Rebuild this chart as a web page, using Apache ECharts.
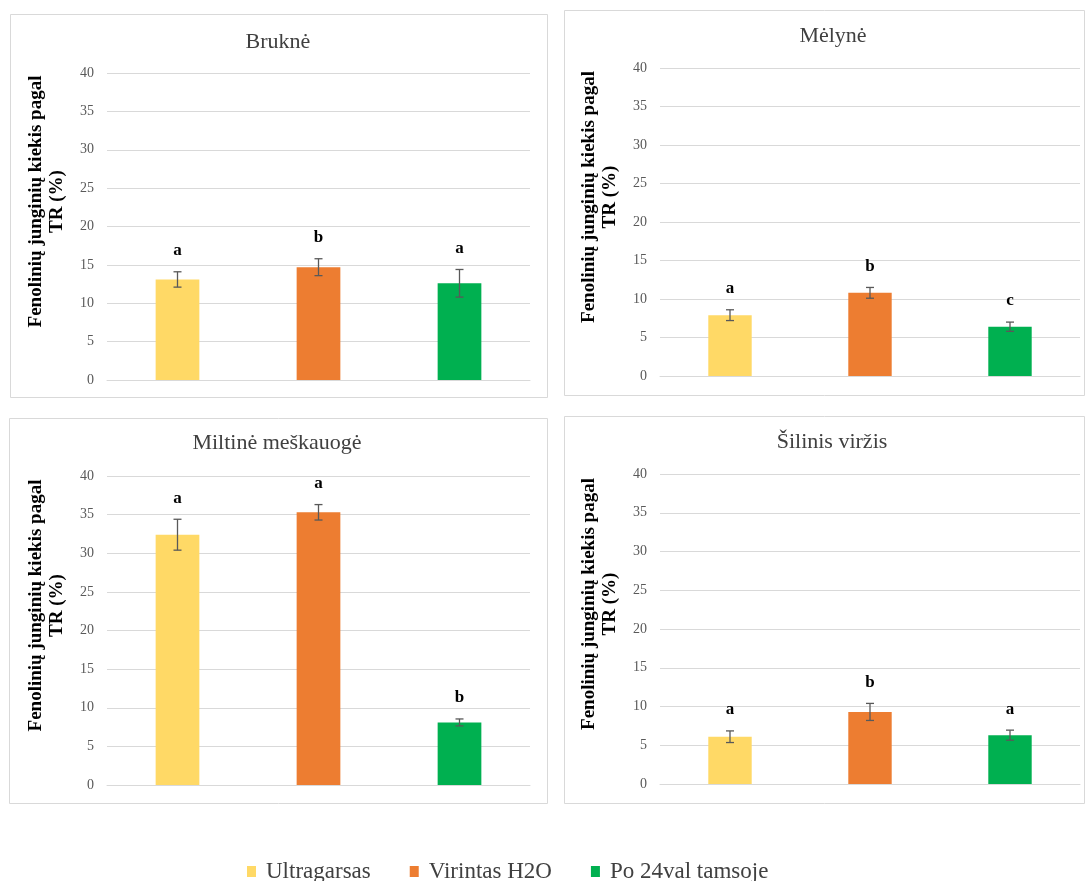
<!DOCTYPE html>
<html><head><meta charset="utf-8">
<script src="https://cdn.jsdelivr.net/npm/echarts@6/dist/echarts.min.js"></script>
<style>html,body{margin:0;padding:0;background:#fff}#c{width:1088px;height:881px}</style>
</head><body><div id="c"></div>
<script>
// ---- data ----
const treatments = ['Ultragarsas', 'Virintas H2O', 'Po 24val tamsoje'];
const panelTitles = ['Bruknė', 'Mėlynė', 'Miltinė meškauogė', 'Šilinis viržis'];
const bruknMeans = [13.1, 14.7, 12.6];
const bruknErr = [1.0, 1.1, 1.8];
const bruknLetters = ['a', 'b', 'a'];
const melynMeans = [7.9, 10.8, 6.4];
const melynErr = [0.7, 0.7, 0.6];
const melynLetters = ['a', 'b', 'c'];
const miltMeans = [32.4, 35.3, 8.1];
const miltErr = [2.0, 1.0, 0.45];
const miltLetters = ['a', 'a', 'b'];
const silMeans = [6.1, 9.3, 6.3];
const silErr = [0.75, 1.1, 0.65];
const silLetters = ['a', 'b', 'a'];
const yMin = 0, yMax = 40, yStep = 5;
const yAxisName = 'Fenolinių junginių kiekis pagal\nTR (%)';

// ---- styling / layout ----
const colors = ['#FFD966', '#ED7D31', '#00B050'];
const serif = '"Liberation Serif", "Times New Roman", serif';
const panels = [
  {means: bruknMeans, err: bruknErr, letters: bruknLetters},
  {means: melynMeans, err: melynErr, letters: melynLetters},
  {means: miltMeans, err: miltErr, letters: miltLetters},
  {means: silMeans, err: silErr, letters: silLetters}
];
const gridPos = [
  {left: 107, top: 73, width: 423, height: 307},
  {left: 660, top: 68, width: 420, height: 308},
  {left: 107, top: 476, width: 423, height: 309},
  {left: 660, top: 474, width: 420, height: 310}
];
const titlePos = [{x: 278, y: 31}, {x: 833, y: 25}, {x: 277, y: 432}, {x: 832, y: 431}];
const boxes = [
  {x: 10.5, y: 14.5, w: 537, h: 383},
  {x: 564.5, y: 10.5, w: 520, h: 385},
  {x: 9.5, y: 418.5, w: 538, h: 385},
  {x: 564.5, y: 416.5, w: 520, h: 387}
];

function errRenderer(letters) {
  return function (params, api) {
    const i = api.value(0);
    const lo = api.coord([i, api.value(1)]);
    const hi = api.coord([i, api.value(2)]);
    const x = lo[0], c = 4;
    const ls = {stroke: '#595959', lineWidth: 1.3};
    return {
      type: 'group',
      children: [
        {type: 'line', shape: {x1: x, y1: lo[1], x2: x, y2: hi[1]}, style: ls},
        {type: 'line', shape: {x1: x - c, y1: hi[1], x2: x + c, y2: hi[1]}, style: ls},
        {type: 'line', shape: {x1: x - c, y1: lo[1], x2: x + c, y2: lo[1]}, style: ls},
        {type: 'text', x: x, y: hi[1] - 21,
         style: {text: letters[params.dataIndex], textAlign: 'center', align: 'center',
                 textVerticalAlign: 'middle', verticalAlign: 'middle',
                 font: 'bold 17px ' + serif, fill: '#000'}}
      ]
    };
  };
}

const option = {
  backgroundColor: '#fff',
  animation: false,
  title: panelTitles.map((t, g) => ({
    text: t, left: titlePos[g].x, top: titlePos[g].y, textAlign: 'center', padding: 0,
    textStyle: {fontFamily: serif, fontSize: 22, fontWeight: 'normal', color: '#404040'}
  })),
  legend: {
    data: treatments, top: 860, left: 247, padding: 0,
    icon: 'rect', itemWidth: 9, itemHeight: 11, itemGap: 39,
    textStyle: {fontFamily: serif, fontSize: 23, color: '#404040', padding: [0, 0, 0, 5]}
  },
  graphic: boxes.map(b => ({
    type: 'rect', shape: {x: b.x, y: b.y, width: b.w, height: b.h},
    style: {fill: 'none', stroke: '#d9d9d9', lineWidth: 1}, silent: true, z: -1
  })),
  grid: gridPos.map(p => Object.assign({containLabel: false}, p)),
  xAxis: gridPos.map((p, g) => ({
    type: 'category', gridIndex: g, data: treatments,
    axisLine: {lineStyle: {color: '#d9d9d9'}}, axisTick: {show: false}, axisLabel: {show: false}
  })),
  yAxis: gridPos.map((p, g) => ({
    type: 'value', gridIndex: g, min: yMin, max: yMax, interval: yStep,
    axisLine: {show: false}, axisTick: {show: false},
    splitLine: {lineStyle: {color: '#d9d9d9', width: 1}},
    axisLabel: {color: '#595959', fontFamily: serif, fontSize: 14, margin: 13},
    name: yAxisName, nameLocation: 'middle', nameGap: 39,
    nameTextStyle: {fontFamily: serif, fontSize: 19, fontWeight: 'bold', color: '#000',
                    lineHeight: 21, padding: [0, 0, 0, 50]}
  })),
  series: []
};

panels.forEach((p, g) => {
  treatments.forEach((t, k) => {
    option.series.push({
      type: 'bar', name: t, xAxisIndex: g, yAxisIndex: g, stack: 'st' + g,
      barWidth: '31%', itemStyle: {color: colors[k]},
      data: p.means.map((v, i) => (i === k ? v : '-'))
    });
  });
  option.series.push({
    type: 'custom', xAxisIndex: g, yAxisIndex: g, z: 5,
    renderItem: errRenderer(p.letters),
    data: p.means.map((v, i) => [i, v - p.err[i], v + p.err[i]])
  });
});

const chart = echarts.init(document.getElementById('c'), null, {renderer: 'canvas'});
chart.setOption(option);
</script>
</body></html>
